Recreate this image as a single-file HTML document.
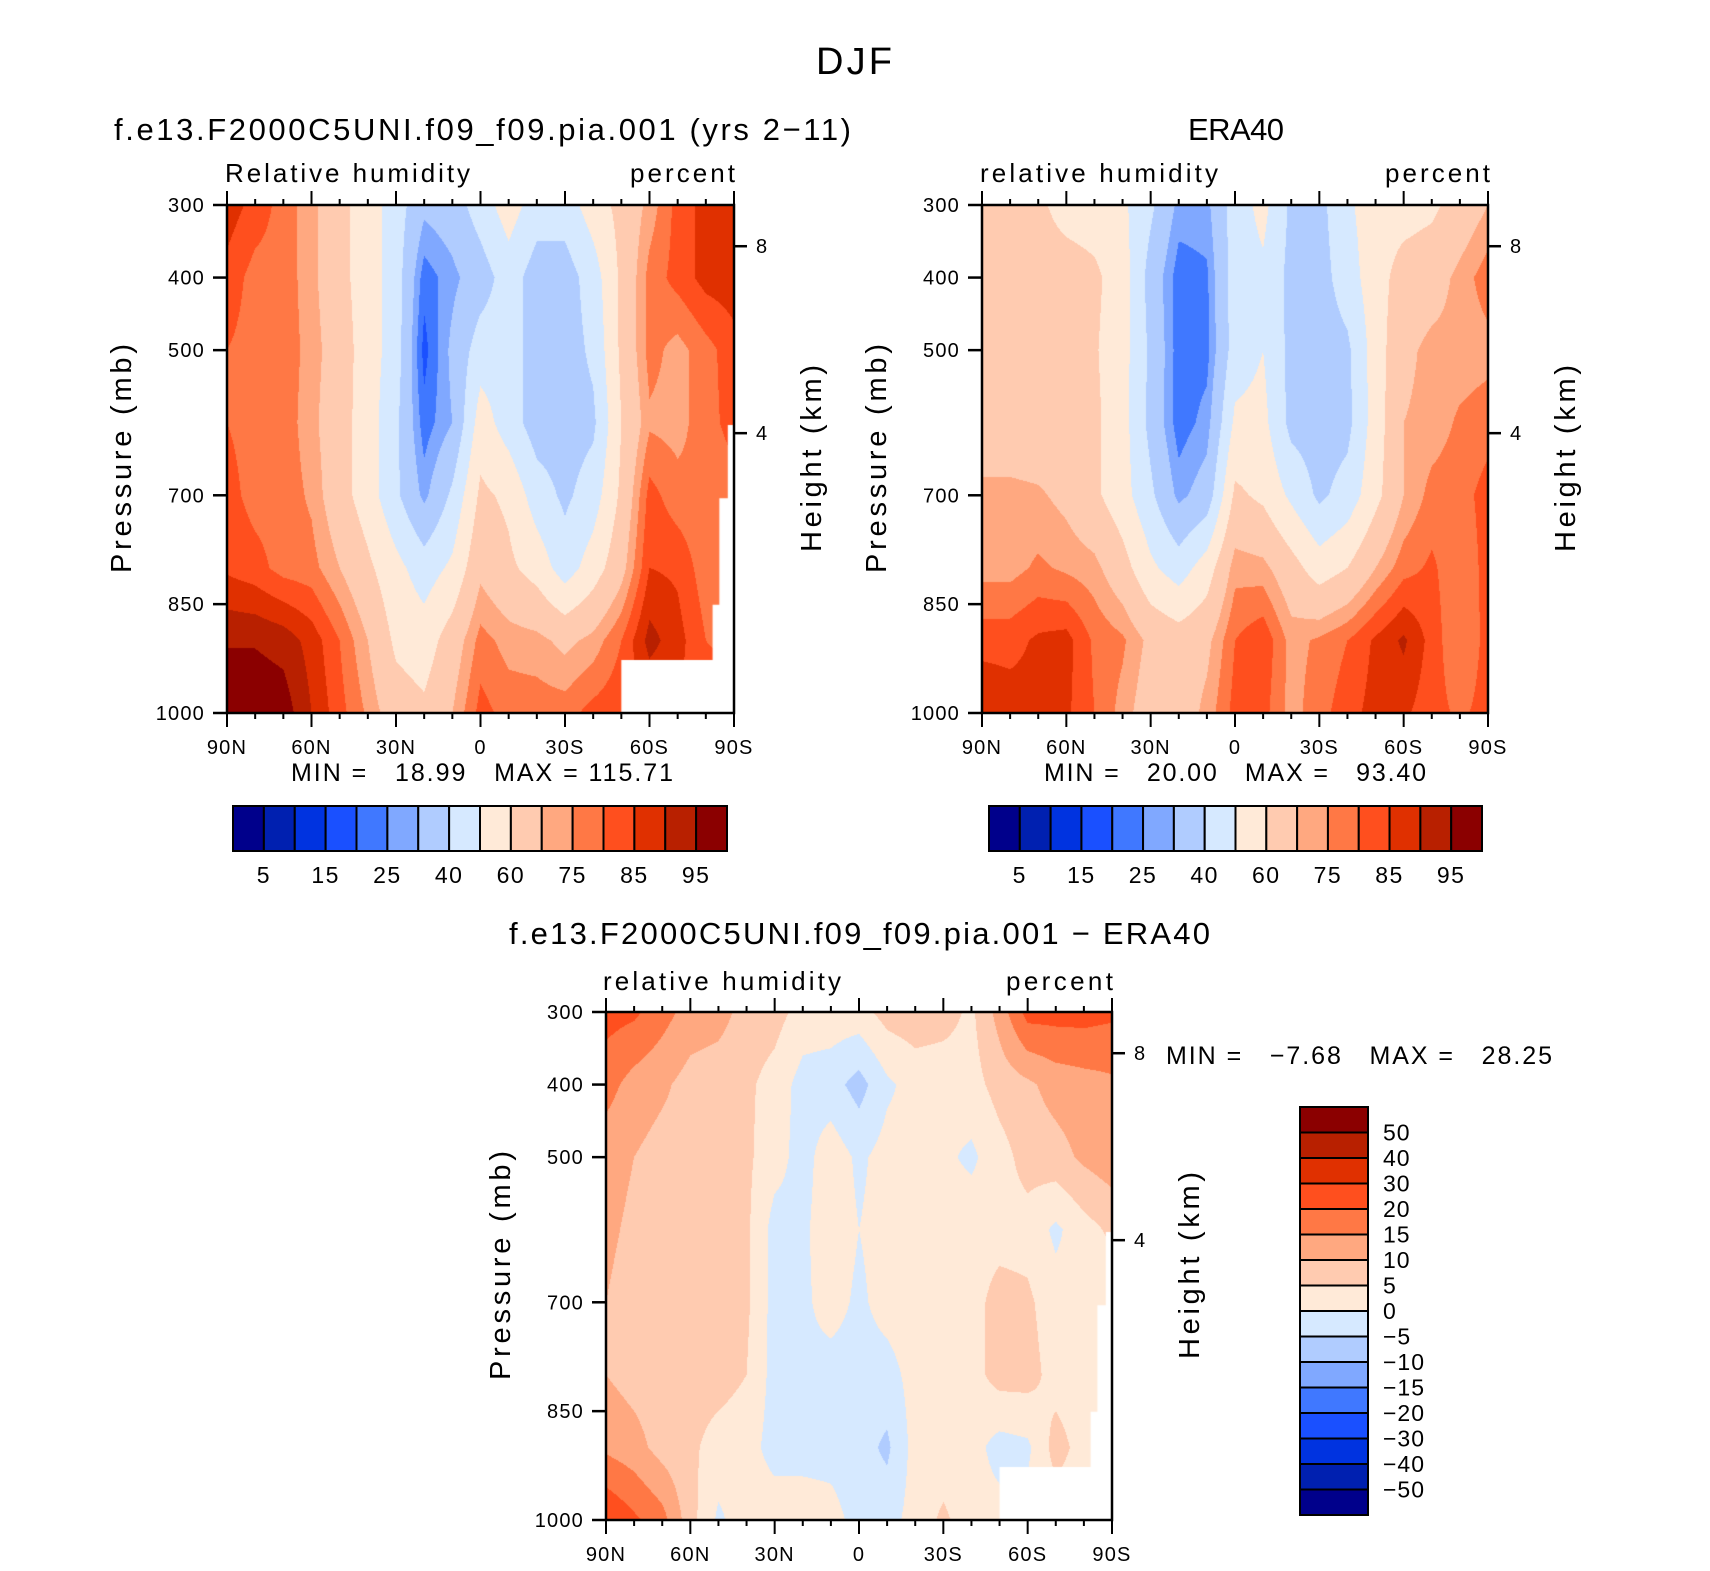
<!DOCTYPE html>
<html><head><meta charset="utf-8">
<style>
html,body{margin:0;padding:0;background:#fff;}
#root{position:relative;width:1710px;height:1571px;overflow:hidden;background:#fff;font-family:"Liberation Sans",sans-serif;}
canvas{position:absolute;}
svg{position:absolute;left:0;top:0;}
text{font-family:"Liberation Sans",sans-serif;fill:#000;}
</style></head>
<body>
<div id="root">
<canvas id="c1" width="507" height="508" style="left:227px;top:205px"></canvas>
<canvas id="c2" width="506" height="508" style="left:982px;top:205px"></canvas>
<canvas id="c3" width="506" height="508" style="left:606px;top:1012px"></canvas>
<svg id="svg" width="1710" height="1571"></svg>
</div>
<script>
const lats = [90,80,70,60,50,40,30,20,10,0,-10,-20,-30,-40,-50,-60,-70,-80,-90];
const pres = [300,400,500,600,700,800,900,1000];
const rhModel = [
 [88,83,78,72,63,55,45,32,35,45,55,45,45,55,63,72,82,87,88],
 [83,78,78,72,63,55,45,22,28,35,45,35,35,45,62,77,82,87,88],
 [80,78,78,73,65,55,45,18,32,45,45,35,35,42,62,77,73,78,83],
 [80,78,78,72,64,55,42,22,30,55,45,35,35,38,60,74,73,78,82],
 [82,78,78,74,64,55,42,28,42,62,58,45,38,45,62,82,77,76,78],
 [84,82,78,77,70,62,53,45,52,68,62,56,45,55,67,85,84,77,77],
 [94.5,94.5,93,88,80,70,58,55,65,77,73,72,68,72,80,92,87,80,78],
 [99,99,98,90,82,74,65,62,70,82,78,78,78,82,84,84,84,84,84]
];
const rhEra = [
 [65,65,62,56,55,52,42,28,28,45,53,38,37,48,56,56,58,64,70],
 [65,65,65,65,62,55,36,22,24,45,48,37,36,45,56,64,66,72,78],
 [65,65,65,65,61,54,38,22,23,45,50,37,35,38,55,68,72,72,73],
 [64,64,64,65,62,54,37,22,27,52,53,37,35,37,55,70,72,76,78],
 [72,72,71,68,62,54,42,28,34,62,58,48,38,44,57,70,77,78,82],
 [73,73,76,74,72,64,52,45,55,73,72,64,55,60,70,78,81,76,82],
 [83,83,86,87,79,76,68,65,68,80,84,73,76,80,86,91,83,75,82],
 [90,88,87,86,80,73,65,65,72,82,82,73,78,83,87,86,82,79,82]
];
const rhDiff = [
 [22,21,17,13,12,8,7,3,3,3,7,8,7,4,12,22,22,22,21],
 [17,13,11,8,7,6,3,-2,-3,-7,-1,2,2,3,7,9,12,13,14],
 [12,10,8,8,7,6,2,-2,3,-1,2,2,1,-1,3,7,8,11,13],
 [11,9,8,7,7,6,-2,-1,3,0,2,3,3,3,3,3,-1,3,6],
 [10,8,8,7,7,6,-2,-1,2,-1,2,3,3,3,7,6,2,1,2],
 [10,8,7,7,7,5,-2,-1,-2,-2,-2,2,2,3,7,7,3,2,2],
 [14,12,8,6,3,2,-2,-2,-2,-3,-6,2,2,2,-2,-1,7,3,3],
 [25,21,17,7,-1,3,3,3,2,-2,-2,2,6,2,2,2,2,2,2]
];
const missingLat = [-87.8,-90,-90,-50,-50,-82.4,-82.4,-84.8,-84.8,-87.8];
const missingP   = [603,603,1000,1000,927,927,851,851,704,704];
const levelsRH = [5,10,15,20,25,30,40,50,60,70,75,80,85,90,95];
const levelsDiff = [-50,-40,-30,-20,-15,-10,-5,0,5,10,15,20,30,40,50];
const labelsRH = ["5","15","25","40","60","75","85","95"];
const labelsDiff = ["−50","−40","−30","−20","−15","−10","−5","0","5","10","15","20","30","40","50"];
const palette = ["#00008b","#0020b0","#0033e0","#1a50ff","#4078ff","#80a8ff","#b0ccff","#d6e9ff",
 "#ffead8","#ffcbb0","#ffa880","#ff7845","#ff4f1e","#e03000","#b82000","#8b0000"];
const latTicks = [90,60,30,0,-30,-60,-90];
const latTickLabels = ["90N","60N","30N","0","30S","60S","90S"];
const presTicks = [300,400,500,700,850,1000];
const heightTicks = [8,4];

const svg = document.getElementById('svg');
const NS = 'http://www.w3.org/2000/svg';
function mk(tag, attrs, txt){
  const e = document.createElementNS(NS, tag);
  for (const k in attrs) e.setAttribute(k, attrs[k]);
  if (txt !== undefined) e.textContent = txt;
  svg.appendChild(e);
  return e;
}
function hexRgb(h){return [parseInt(h.slice(1,3),16),parseInt(h.slice(3,5),16),parseInt(h.slice(5,7),16)];}
const palRgb = palette.map(hexRgb);

function interp(grid, lat, p){
  let fx = (90 - lat) / 10; let fy = (p - 300) / 100;
  let i = Math.min(Math.floor(fx), lats.length - 2), j = Math.min(Math.floor(fy), pres.length - 2);
  let tx = fx - i, ty = fy - j;
  const a = grid[j][i], b = grid[j][i+1], c = grid[j+1][i], d = grid[j+1][i+1];
  return (a*(1-tx)+b*tx)*(1-ty) + (c*(1-tx)+d*tx)*ty;
}
function classOf(v, levels){ let k = 0; while (k < levels.length && v >= levels[k]) k++; return k; }

function drawField(canvasId, grid, levels, masked){
  const cv = document.getElementById(canvasId);
  const W = cv.width, H = cv.height, ctx = cv.getContext('2d');
  const img = ctx.createImageData(W, H);
  for (let y = 0; y < H; y++){
    const p = 300 + (y + 0.5) / H * 700;
    for (let x = 0; x < W; x++){
      const lat = 90 - (x + 0.5) / W * 180;
      const k = classOf(interp(grid, lat, p), levels);
      const c = palRgb[k], o = (y*W + x) * 4;
      img.data[o]=c[0]; img.data[o+1]=c[1]; img.data[o+2]=c[2]; img.data[o+3]=255;
    }
  }
  ctx.putImageData(img, 0, 0);
  if (masked){
    ctx.fillStyle = '#fff'; ctx.beginPath();
    for (let i = 0; i < missingLat.length; i++){
      const x = (90 - missingLat[i]) / 180 * W, y = (missingP[i] - 300) / 700 * H;
      if (i === 0) ctx.moveTo(x, y); else ctx.lineTo(x, y);
    }
    ctx.closePath(); ctx.fill();
  }
}

function drawAxes(px, py, pw, ph, pfx){
  const X = lat => px + (90 - lat) / 180 * pw;
  const Y = p => py + (p - 300) / 700 * ph;
  const hToP = z => 1058 * Math.exp(-z / 7.36);
  const frame = mk('rect', {x:px, y:py, width:pw, height:ph, fill:'none', stroke:'#000', 'stroke-width':2.5});
  
  
  for (let lat = 90; lat >= -90; lat -= 10){
    const major = lat % 30 === 0, L = major ? 14 : 6;
    mk('line', {x1:X(lat), x2:X(lat), y1:py, y2:py-L, stroke:'#000', 'stroke-width':2});
    mk('line', {x1:X(lat), x2:X(lat), y1:py+ph, y2:py+ph+L, stroke:'#000', 'stroke-width':2});
  }
  latTicks.forEach((lat, i) => {
    const t = mk('text', {x:X(lat), y:py+ph+41, 'font-size':20, 'letter-spacing':1.2, 'text-anchor':'middle'}, latTickLabels[i]);
    
    
  });
  presTicks.forEach(p => {
    mk('line', {x1:px, x2:px-14, y1:Y(p), y2:Y(p), stroke:'#000', 'stroke-width':2.5});
    const t = mk('text', {x:px-22, y:Y(p)+7, 'font-size':20, 'letter-spacing':1.2, 'text-anchor':'end'}, String(p));
    
    
  });
  heightTicks.forEach(z => {
    const y = Y(hToP(z));
    mk('line', {x1:px+pw, x2:px+pw+13, y1:y, y2:y, stroke:'#000', 'stroke-width':2.5});
    const t = mk('text', {x:px+pw+22, y:y+7, 'font-size':20}, String(z));
    
    
  });
  const yl = mk('text', {x:-114, y:0, 'font-size':29, textLength:229, transform:`translate(${px-96},${py+ph/2}) rotate(-90)`}, 'Pressure (mb)');
  
  
  const hl = mk('text', {x:-93, y:0, 'font-size':29, textLength:187, transform:`translate(${px+pw+87},${py+ph/2}) rotate(-90)`}, 'Height (km)');
  
  
}

function hColorbar(x0, x1, y0, y1, pfx){
  const n = palette.length, w = (x1 - x0) / n;
  palette.forEach((c, k) => {
    const r = mk('rect', {x:x0+k*w, y:y0, width:w, height:y1-y0, fill:c, stroke:'#000', 'stroke-width':2});
    
    
  });
  labelsRH.forEach((lab, i) => {
    const k = 2*i + 1;
    const t = mk('text', {x:x0+k*w, y:y1+32, 'font-size':23, 'letter-spacing':1.5, 'text-anchor':'middle'}, lab);
    
    
  });
}

function vColorbar(x0, x1, y0, y1){
  const n = palette.length, h = (y1 - y0) / n;
  palette.forEach((c, k) => {
    const r = mk('rect', {x:x0, y:y1-(k+1)*h, width:x1-x0, height:h, fill:c, stroke:'#000', 'stroke-width':2});
    
    
  });
  labelsDiff.forEach((lab, i) => {
    const y = y1 - (i+1)*h;
    const t = mk('text', {x:x1+15, y:y+8, 'font-size':23, 'letter-spacing':1}, lab);
    
    
  });
}

function txt(x, y, s, size, len, name){
  const t = mk('text', {x:x, y:y, 'font-size':size, textLength:len}, s);
  
  
  t.setAttribute('xml:space', 'preserve');
  t.style.whiteSpace = 'pre';
  return t;
}

drawField('c1', rhModel, levelsRH, true);
drawField('c2', rhEra, levelsRH, false);
drawField('c3', rhDiff, levelsDiff, true);

txt(816, 74, 'DJF', 38, 76, 'figure-title');

txt(114, 140, 'f.e13.F2000C5UNI.f09_f09.pia.001 (yrs 2−11)', 31, 737, 'model-panel-title');
txt(225, 182, 'Relative humidity', 26, 245, 'model-variable-label');
txt(630, 182, 'percent', 26, 105, 'model-units-label');
drawAxes(227, 205, 507, 508, 'model');
txt(291, 781, 'MIN =   18.99   MAX = 115.71', 25, 382, 'model-min-max');
hColorbar(233, 727, 806, 851, 'model');

txt(1188, 140, 'ERA40', 31, 96, 'era40-panel-title');
txt(980, 182, 'relative humidity', 26, 238, 'era40-variable-label');
txt(1385, 182, 'percent', 26, 105, 'era40-units-label');
drawAxes(982, 205, 506, 508, 'era40');
txt(1044, 781, 'MIN =   20.00   MAX =   93.40', 25, 382, 'era40-min-max');
hColorbar(989, 1482, 806, 851, 'era40');

txt(509, 944, 'f.e13.F2000C5UNI.f09_f09.pia.001 − ERA40', 31, 701, 'diff-panel-title');
txt(603, 990, 'relative humidity', 26, 238, 'diff-variable-label');
txt(1006, 990, 'percent', 26, 107, 'diff-units-label');
drawAxes(606, 1012, 506, 508, 'diff');
txt(1166, 1064, 'MIN =   −7.68   MAX =   28.25', 25, 386, 'diff-min-max');
vColorbar(1300, 1368, 1107, 1515);
</script>
</body></html>
